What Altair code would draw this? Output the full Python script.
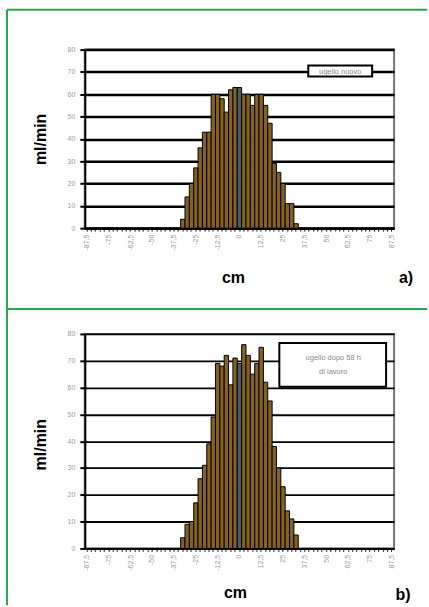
import altair as alt
import pandas as pd

# bins of the histogram (cm), step 2.5 from -87.5 to 87.5
bins = [round(-87.5 + 2.5 * i, 1) for i in range(71)]

# a) new nozzle  (ml/min), non-zero part from -32.5 to 32.5 cm
top_nonzero = [4, 14, 20, 27, 36, 43, 43, 60, 60, 58, 52, 62, 63, 63,
               60, 60, 55, 60, 60, 55, 47, 29, 25, 20, 11, 11, 2]
# b) nozzle after 58 h of work
bot_nonzero = [4, 9, 10, 17, 26, 31, 39, 49, 69, 68, 72, 61, 71, 69,
               76, 72, 65, 69, 75, 62, 55, 38, 30, 23, 14, 11, 5]

top_vals = [0] * 22 + top_nonzero + [0] * 22
bot_vals = [0] * 22 + bot_nonzero + [0] * 22

y_ticks = [0, 10, 20, 30, 40, 50, 60, 70, 80]

GREEN = "#25a84c"
FONT = "Liberation Sans"


def panel(vals, fill, blue, h, grid_w, legend_lines, box, legend_ys, legend_cx,
          frame_rules, ylab_y, cm_xy, tag, tag_xy):
    df = pd.DataFrame({"cm": bins, "v": vals,
                       "kind": ["centro" if b == 0 else "bar" for b in bins]})
    one = alt.Data(values=[{}])

    bars = alt.Chart(df).mark_bar(stroke="black", strokeWidth=1).encode(
        x=alt.X("cm:O",
                scale=alt.Scale(domain=bins, paddingInner=0, paddingOuter=0),
                axis=alt.Axis(title=None, labelAngle=-90, labelFontSize=7,
                              labelColor="#999999", labelFont=FONT,
                              labelExpr="(datum.value*2)%25==0 ? replace(toString(datum.value),'.',',') : ''",
                              labelOverlap=False, tickSize=3, tickColor="#222",
                              domainColor="black", domainWidth=2, labelPadding=3,
                              grid=False)),
        y=alt.Y("v:Q", scale=alt.Scale(domain=[0, 80], nice=False),
                axis=alt.Axis(values=y_ticks, title=None, labelFontSize=7,
                              labelColor="#999999", labelFont=FONT,
                              gridColor="black", gridWidth=grid_w,
                              domainColor="black", domainWidth=2,
                              tickColor="black", tickWidth=2, tickSize=5,
                              labelPadding=5)),
        color=alt.Color("kind:N", scale=alt.Scale(domain=["bar", "centro"],
                                                  range=[fill, blue]),
                        legend=None),
    )

    layers = [bars]

    # legend box
    layers.append(alt.Chart(one).mark_rect(fill="white", stroke="black",
                                           strokeWidth=2).encode(
        x=alt.value(box[0]), x2=alt.value(box[1]),
        y=alt.value(box[2]), y2=alt.value(box[3])))
    for line, ly in zip(legend_lines, legend_ys):
        layers.append(alt.Chart(pd.DataFrame({"t": [line]})).mark_text(
            fontSize=7.5, font=FONT).encode(
            text="t:N", x=alt.value(legend_cx), y=alt.value(ly),
            color=alt.value("#888888")))

    # green frame
    for (x1, x2, y1, y2) in frame_rules:
        layers.append(alt.Chart(one).mark_rule(strokeWidth=2).encode(
            x=alt.value(x1), x2=alt.value(x2), y=alt.value(y1), y2=alt.value(y2),
            color=alt.value(GREEN)))

    # titles
    layers.append(alt.Chart(pd.DataFrame({"t": ["ml/min"]})).mark_text(
        fontSize=16, fontWeight="bold", font=FONT, angle=270).encode(
        text="t:N", x=alt.value(-44), y=alt.value(ylab_y), color=alt.value("black")))
    layers.append(alt.Chart(pd.DataFrame({"t": ["cm"]})).mark_text(
        fontSize=16, fontWeight="bold", font=FONT).encode(
        text="t:N", x=alt.value(cm_xy[0]), y=alt.value(cm_xy[1]), color=alt.value("black")))
    layers.append(alt.Chart(pd.DataFrame({"t": [tag]})).mark_text(
        fontSize=16, fontWeight="bold", font=FONT).encode(
        text="t:N", x=alt.value(tag_xy[0]), y=alt.value(tag_xy[1]), color=alt.value("black")))

    return alt.layer(*layers).properties(width=310, height=h)


top = panel(top_vals, "#86621e", "#4a5a70", 179, 2.5,
            ["ugello nuovo"], (224, 288, 16, 27), [22], 256,
            [(-78, -78, -40, 260), (-78, 343, -40, -40), (-78, 343, 260, 260)],
            90, (149, 229), "a)", (322, 229))

bot = panel(bot_vals, "#a57212", "#4d6fa8", 215, 1.8,
            ["ugello dopo 58 h", "di lavoro"], (195, 302, 9, 53), [24, 38], 249,
            [(-78, -78, -25, 272)],
            111, (151, 260), "b)", (319, 262))

chart = alt.vconcat(top, bot, spacing=106, bounds="flush").properties(
    padding={"left": 5, "top": 7, "right": 0, "bottom": 0},
    background="white",
).configure_view(stroke="#777", strokeWidth=2)

chart.save("out.html", embed_options={"renderer": "svg", "actions": False})
